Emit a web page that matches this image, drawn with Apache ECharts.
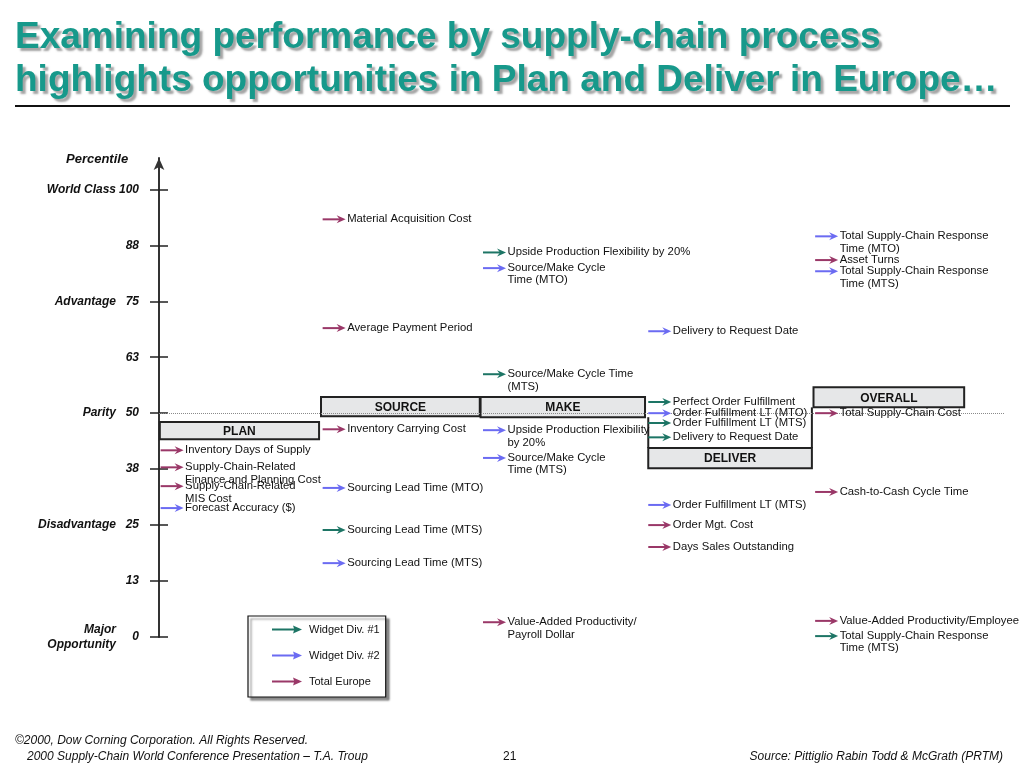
<!DOCTYPE html>
<html><head><meta charset="utf-8">
<script src="https://cdn.jsdelivr.net/npm/echarts@6/dist/echarts.min.js"></script>
<style>html,body{margin:0;padding:0;background:#fff}#c{width:1024px;height:768px}</style>
</head><body><div id="c"></div>
<script>
// ---------- DATA ----------
const processes = ['PLAN', 'SOURCE', 'MAKE', 'DELIVER', 'OVERALL'];
const seriesNames = ['Widget Div. #1', 'Widget Div. #2', 'Total Europe'];
const tickValues = [0, 12.5, 25, 37.5, 50, 62.5, 75, 87.5, 100];
const tickLabels = ['0', '13', '25', '38', '50', '63', '75', '88', '100'];
const bandValues = [0, 25, 50, 75, 100];
const bandLabels = ['Major\nOpportunity', 'Disadvantage', 'Parity', 'Advantage', 'World Class'];

// [process index, percentile, metric]
const div1Metrics = [
  [1, 23.9, 'Sourcing Lead Time (MTS)'],
  [2, 85.9, 'Upside Production Flexibility by 20%'],
  [2, 58.7, 'Source/Make Cycle Time\n(MTS)'],
  [3, 52.5, 'Perfect Order Fulfillment'],
  [3, 47.8, 'Order Fulfillment LT (MTS)'],
  [3, 44.6, 'Delivery to Request Date'],
  [4, 0.2, 'Total Supply-Chain Response\nTime (MTS)']
];
const div2Metrics = [
  [0, 28.8, 'Forecast Accuracy ($)'],
  [1, 33.3, 'Sourcing Lead Time (MTO)'],
  [1, 16.5, 'Sourcing Lead Time (MTS)'],
  [2, 82.4, 'Source/Make Cycle\nTime (MTO)'],
  [2, 46.2, 'Upside Production Flexibility\nby 20%'],
  [2, 40.0, 'Source/Make Cycle\nTime (MTS)'],
  [3, 68.3, 'Delivery to Request Date'],
  [3, 50.0, 'Order Fulfillment LT (MTO)'],
  [3, 29.5, 'Order Fulfillment LT (MTS)'],
  [4, 89.5, 'Total Supply-Chain Response\nTime (MTO)'],
  [4, 81.7, 'Total Supply-Chain Response\nTime (MTS)']
];
const europeMetrics = [
  [0, 41.7, 'Inventory Days of Supply'],
  [0, 37.9, 'Supply-Chain-Related\nFinance and Planning Cost'],
  [0, 33.7, 'Supply-Chain-Related\nMIS Cost'],
  [1, 93.3, 'Material Acquisition Cost'],
  [1, 69.0, 'Average Payment Period'],
  [1, 46.4, 'Inventory Carrying Cost'],
  [2, 3.3, 'Value-Added Productivity/\nPayroll Dollar'],
  [3, 25.0, 'Order Mgt. Cost'],
  [3, 20.1, 'Days Sales Outstanding'],
  [4, 84.2, 'Asset Turns'],
  [4, 50.0, 'Total Supply-Chain Cost'],
  [4, 32.4, 'Cash-to-Cash Cycle Time'],
  [4, 3.6, 'Value-Added Productivity/Employee']
];
// header box vertical extents (percentile units): top, bottom
const headerTop = [48.0, 53.6, 53.6, 42.2, 55.8];
const headerBottom = [44.2, 49.3, 49.1, 37.7, 51.3];

// ---------- LAYOUT / STYLE ----------
const colStart = [0.005, 1.0, 1.985, 3.02, 4.04];
const colEnd = [0.988, 1.98, 3.0, 4.03, 4.97];
const arrowStart = [0.01, 1.01, 2.0, 3.02, 4.05];
const colors = ['#1d7565', '#6b6bf2', '#9a3868'];
const FONT = '"Liberation Sans", Arial, Helvetica, sans-serif';

function arrowSeries(name, metrics, color) {
  return {
    name: name, type: 'custom', z: 5,
    itemStyle: { color: color },
    data: metrics.map(m => ({ value: [arrowStart[m[0]], m[1]], name: m[2] })),
    renderItem: function (params, api) {
      const p = api.coord([api.value(0), api.value(1)]);
      const x0 = p[0], y = p[1], L = 23;
      return {
        type: 'group', children: [
          { type: 'line', shape: { x1: x0, y1: y, x2: x0 + L - 5, y2: y }, style: { stroke: color, lineWidth: 2 } },
          { type: 'polygon', shape: { points: [[x0 + L - 9, y - 4], [x0 + L, y], [x0 + L - 9, y + 4], [x0 + L - 6, y]] }, style: { fill: color } },
          { type: 'text', x: x0 + L + 1.5, y: y - 6.5, style: { text: metrics[params.dataIndex][2], font: '11.3px ' + FONT, fill: '#111', verticalAlign: 'top', lineHeight: 12.5 } }
        ]
      };
    }
  };
}

const arrowIcon = 'path://M0,3 L22,3 L21,0 L30,4 L21,8 L22,5 L0,5 Z';

const chart = echarts.init(document.getElementById('c'), null, { renderer: 'canvas' });
chart.setOption({
  backgroundColor: '#ffffff',
  animation: false,
  title: [
    { text: 'Examining performance by supply-chain process\nhighlights opportunities in Plan and Deliver in Europe…', left: 10, top: 11,
      textStyle: { fontFamily: FONT, fontSize: 37, fontWeight: 'bold', color: '#17998b', lineHeight: 43,
        textShadowColor: 'rgba(90,90,90,0.55)', textShadowOffsetX: 3, textShadowOffsetY: 3, textShadowBlur: 2 } },
    { text: 'Percentile', left: 61, top: 148, textStyle: { fontFamily: FONT, fontSize: 13, fontWeight: 'bold', fontStyle: 'italic', color: '#111' } },
    { text: '©2000, Dow Corning Corporation. All Rights Reserved.', left: 10, top: 730, textStyle: { fontFamily: FONT, fontSize: 12, fontWeight: 'normal', fontStyle: 'italic', color: '#111' } },
    { text: '2000 Supply-Chain World Conference Presentation – T.A. Troup', left: 22, top: 746, textStyle: { fontFamily: FONT, fontSize: 12, fontWeight: 'normal', fontStyle: 'italic', color: '#111' } },
    { text: '21', left: 498, top: 746, textStyle: { fontFamily: FONT, fontSize: 12, fontWeight: 'normal', color: '#111' } },
    { text: 'Source: Pittiglio Rabin Todd & McGrath (PRTM)', right: 16, top: 746, textStyle: { fontFamily: FONT, fontSize: 12, fontWeight: 'normal', fontStyle: 'italic', color: '#111' } }
  ],
  graphic: [
    { type: 'line', shape: { x1: 15, y1: 106, x2: 1010, y2: 106 }, style: { stroke: '#111', lineWidth: 2 } }
  ],
  legend: {
    orient: 'vertical', left: 248, top: 616,
    data: seriesNames.map(n => ({ name: n, icon: arrowIcon })),
    itemWidth: 30, itemHeight: 8, itemGap: 15,
    padding: [8, 6, 10, 24],
    backgroundColor: '#fff', borderColor: '#111', borderWidth: 1.2,
    shadowColor: 'rgba(0,0,0,0.45)', shadowOffsetX: 3, shadowOffsetY: 3, shadowBlur: 2,
    textStyle: { fontFamily: FONT, fontSize: 11, color: '#111', padding: [0, 0, 0, 2] },
    selectedMode: false
  },
  grid: { left: 159, top: 158, width: 846, height: 479, containLabel: false },
  xAxis: { type: 'value', min: 0, max: 5.222, show: false },
  yAxis: [
    {
      type: 'value', min: 0, max: 107, position: 'left',
      axisLine: { show: true, lineStyle: { color: '#333', width: 2 }, symbol: ['none', 'arrow'], symbolSize: [8, 12] },
      axisTick: { show: true, length: 9, customValues: tickValues, lineStyle: { color: '#222', width: 1.5 } },
      axisLabel: { customValues: tickValues, formatter: v => tickLabels[tickValues.indexOf(v)], margin: 20,
        fontFamily: FONT, fontSize: 12, fontWeight: 'bold', fontStyle: 'italic', color: '#111' },
      splitLine: { show: false }
    },
    {
      type: 'value', min: 0, max: 107, position: 'left',
      axisLine: { show: false },
      axisTick: { show: true, inside: true, length: 9, customValues: tickValues, lineStyle: { color: '#222', width: 1.5 } },
      axisLabel: { customValues: bandValues, formatter: v => bandLabels[bandValues.indexOf(v)], margin: 43, lineHeight: 15,
        fontFamily: FONT, fontSize: 12, fontWeight: 'bold', fontStyle: 'italic', color: '#111' },
      splitLine: { show: false }
    }
  ],
  series: [
    {
      name: 'parity', type: 'custom', z: 1, silent: true, data: [],
      renderItem: () => null,
      markLine: { silent: true, symbol: 'none', data: [{ yAxis: 50 }], label: { show: false },
        lineStyle: { type: 'dotted', color: '#8a8a8a', width: 1 } }
    },
    {
      name: 'headers', type: 'custom', z: 3, silent: true,
      data: processes.map((p, i) => [i, headerTop[i], headerBottom[i]]),
      renderItem: function (params, api) {
        const i = params.dataIndex;
        const tl = api.coord([colStart[i], api.value(1)]);
        const br = api.coord([colEnd[i], api.value(2)]);
        const children = [
          { type: 'rect', shape: { x: tl[0], y: tl[1], width: br[0] - tl[0], height: br[1] - tl[1] },
            style: { fill: '#e6e7e8', stroke: '#222', lineWidth: 2 } },
          { type: 'text', x: (tl[0] + br[0]) / 2, y: (tl[1] + br[1]) / 2 + 1,
            style: { text: processes[i], font: 'bold 12px ' + FONT, fill: '#111', align: 'center', verticalAlign: 'middle' } }
        ];
        if (processes[i] === 'DELIVER') {
          const lt = api.coord([colStart[i], headerBottom[2]]);
          const rt = api.coord([colEnd[i], headerBottom[4]]);
          children.push({ type: 'line', shape: { x1: tl[0], y1: lt[1], x2: tl[0], y2: tl[1] }, style: { stroke: '#222', lineWidth: 2 } });
          children.push({ type: 'line', shape: { x1: br[0], y1: rt[1], x2: br[0], y2: tl[1] }, style: { stroke: '#222', lineWidth: 2 } });
        }
        return { type: 'group', children: children };
      }
    },
    arrowSeries(seriesNames[0], div1Metrics, colors[0]),
    arrowSeries(seriesNames[1], div2Metrics, colors[1]),
    arrowSeries(seriesNames[2], europeMetrics, colors[2])
  ]
});
</script>
</body></html>
